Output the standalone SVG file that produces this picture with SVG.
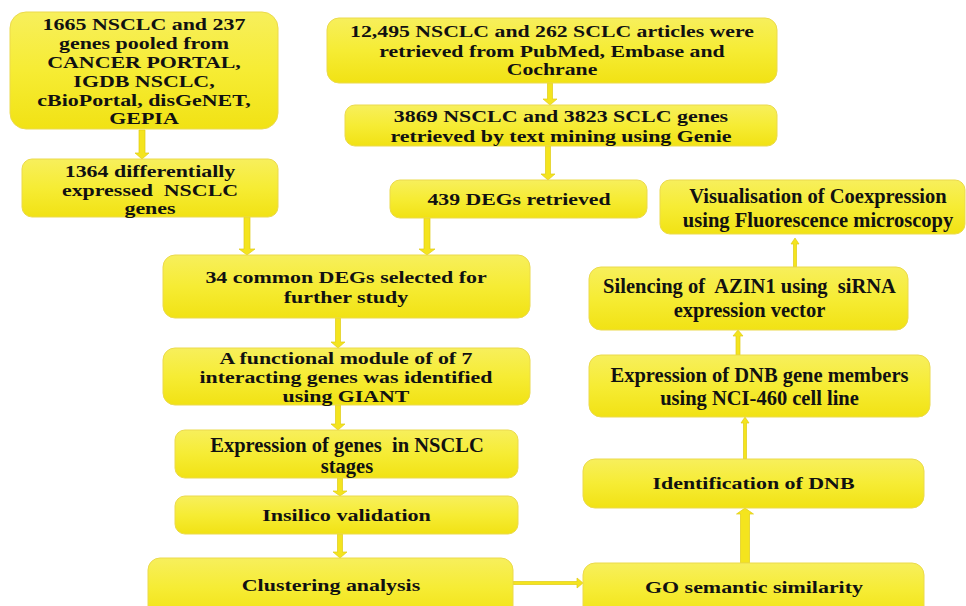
<svg xmlns="http://www.w3.org/2000/svg" width="966" height="606" viewBox="0 0 966 606">
<defs>
<linearGradient id="yg" x1="0" y1="0" x2="0" y2="1">
<stop offset="0" stop-color="#F7EF5C"/>
<stop offset="0.5" stop-color="#F6EC34"/>
<stop offset="1" stop-color="#F1E214"/>
</linearGradient>
</defs>
<style>
.box{fill:url(#yg);stroke:#EBDA4C;stroke-width:1}
.t{font-family:"Liberation Serif","Times New Roman",serif;font-weight:bold;fill:#111;text-anchor:middle;white-space:pre}
.s{font-size:17px}
.n{font-size:20.5px}
.arr{fill:#F4E41E;stroke:#E0CB14;stroke-width:0.7}
</style>
<rect width="966" height="606" fill="#ffffff"/>
<g id="connectors">
<polygon class="arr" points="139,130 145,130 145,153 149,153 142,159 135,153 139,153"/>
<polygon class="arr" points="244,217 250,217 250,249 255,249 247,255 239,249 244,249"/>
<polygon class="arr" points="547.5,83 552.5,83 552.5,99 557,99 550,105 543,99 547.5,99"/>
<polygon class="arr" points="545.5,146 550.5,146 550.5,174 555,174 548,180 541,174 545.5,174"/>
<polygon class="arr" points="424,218 430,218 430,249 435,249 427,255 419,249 424,249"/>
<polygon class="arr" points="335.5,318 340.5,318 340.5,342 345,342 338,348 331,342 335.5,342"/>
<polygon class="arr" points="335.5,405 340.5,405 340.5,424 345,424 338,430 331,424 335.5,424"/>
<polygon class="arr" points="337.5,478 342.5,478 342.5,491 347,491 340,496 333,491 337.5,491"/>
<polygon class="arr" points="337.5,534 342.5,534 342.5,552 347,552 340,558 333,552 337.5,552"/>
<polygon class="arr" points="513,581.5 577,581.5 577,578 583,583 577,588 577,584.5 513,584.5"/>
<polygon class="arr" points="740.5,563 749.5,563 749.5,514 753.5,514 745,508 736.5,514 740.5,514"/>
<polygon class="arr" points="743.5,459 746.5,459 746.5,423 749,423 745,417 741,423 743.5,423"/>
<polygon class="arr" points="736,355 740,355 740,336 743,336 738,330 733,336 736,336"/>
<polygon class="arr" points="793.5,267 796.5,267 796.5,244 799,244 795,238 791,244 793.5,244"/>
</g>
<g id="n1">
<rect class="box" x="10" y="12" width="268" height="117" rx="16"/>
<text class="t s" transform="translate(144,0) scale(1.29,1)"><tspan x="0" y="30">1665 NSCLC and 237</tspan><tspan x="0" y="49">genes pooled from</tspan><tspan x="0" y="68">CANCER PORTAL,</tspan><tspan x="0" y="87">IGDB NSCLC,</tspan><tspan x="0" y="106">cBioPortal, disGeNET,</tspan><tspan x="0" y="124">GEPIA</tspan></text>
</g>
<g id="n2">
<rect class="box" x="22" y="159" width="256" height="58" rx="10"/>
<text class="t s" transform="translate(150,0) scale(1.29,1)"><tspan x="0" y="177">1364 differentially</tspan><tspan x="0" y="196">expressed  NSCLC</tspan><tspan x="0" y="214">genes</tspan></text>
</g>
<g id="n3">
<rect class="box" x="327" y="18" width="450" height="65" rx="12"/>
<text class="t s" transform="translate(552,0) scale(1.28,1)"><tspan x="0" y="37">12,495 NSCLC and 262 SCLC articles were</tspan><tspan x="0" y="57">retrieved from PubMed, Embase and</tspan><tspan x="0" y="75">Cochrane</tspan></text>
</g>
<g id="n4">
<rect class="box" x="345" y="105" width="432" height="41" rx="10"/>
<text class="t s" transform="translate(561,0) scale(1.29,1)"><tspan x="0" y="122">3869 NSCLC and 3823 SCLC genes</tspan><tspan x="0" y="142">retrieved by text mining using Genie</tspan></text>
</g>
<g id="n5">
<rect class="box" x="390" y="180" width="257" height="38" rx="10"/>
<text class="t s" transform="translate(519,0) scale(1.28,1)"><tspan x="0" y="205">439 DEGs retrieved</tspan></text>
</g>
<g id="n6">
<rect class="box" x="163" y="255" width="367" height="63" rx="12"/>
<text class="t s" transform="translate(346,0) scale(1.29,1)"><tspan x="0" y="283">34 common DEGs selected for</tspan><tspan x="0" y="303">further study</tspan></text>
</g>
<g id="n7">
<rect class="box" x="163" y="348" width="367" height="57" rx="12"/>
<text class="t s" transform="translate(346,0) scale(1.285,1)"><tspan x="0" y="364">A functional module of of 7</tspan><tspan x="0" y="383">interacting genes was identified</tspan><tspan x="0" y="402">using GIANT</tspan></text>
</g>
<g id="n8">
<rect class="box" x="175" y="430" width="343" height="48" rx="10"/>
<text class="t n"><tspan x="347" y="452">Expression of genes  in NSCLC</tspan><tspan x="347" y="473">stages</tspan></text>
</g>
<g id="n9">
<rect class="box" x="175" y="496" width="343" height="38" rx="10"/>
<text class="t s" transform="translate(346.5,0) scale(1.3,1)"><tspan x="0" y="521">Insilico validation</tspan></text>
</g>
<g id="n10">
<rect class="box" x="148" y="558" width="365" height="60" rx="12"/>
<text class="t s" transform="translate(331,0) scale(1.29,1)"><tspan x="0" y="591">Clustering analysis</tspan></text>
</g>
<g id="n11">
<rect class="box" x="583" y="563" width="341" height="55" rx="12"/>
<text class="t s" transform="translate(754,0) scale(1.29,1)"><tspan x="0" y="593">GO semantic similarity</tspan></text>
</g>
<g id="n12">
<rect class="box" x="583" y="459" width="341" height="49" rx="12"/>
<text class="t s" transform="translate(753.5,0) scale(1.29,1)"><tspan x="0" y="489">Identification of DNB</tspan></text>
</g>
<g id="n13">
<rect class="box" x="589" y="355" width="341" height="62" rx="12"/>
<text class="t n"><tspan x="759.5" y="382">Expression of DNB gene members</tspan><tspan x="759.5" y="405">using NCI-460 cell line</tspan></text>
</g>
<g id="n14">
<rect class="box" x="589" y="267" width="319" height="63" rx="12"/>
<text class="t n"><tspan x="749.5" y="293">Silencing of  AZIN1 using  siRNA</tspan><tspan x="749.5" y="317">expression vector</tspan></text>
</g>
<g id="n15">
<rect class="box" x="660" y="180" width="305" height="54" rx="10"/>
<text class="t n"><tspan x="818" y="203">Visualisation of Coexpression</tspan><tspan x="818" y="227">using Fluorescence microscopy</tspan></text>
</g>
</svg>
